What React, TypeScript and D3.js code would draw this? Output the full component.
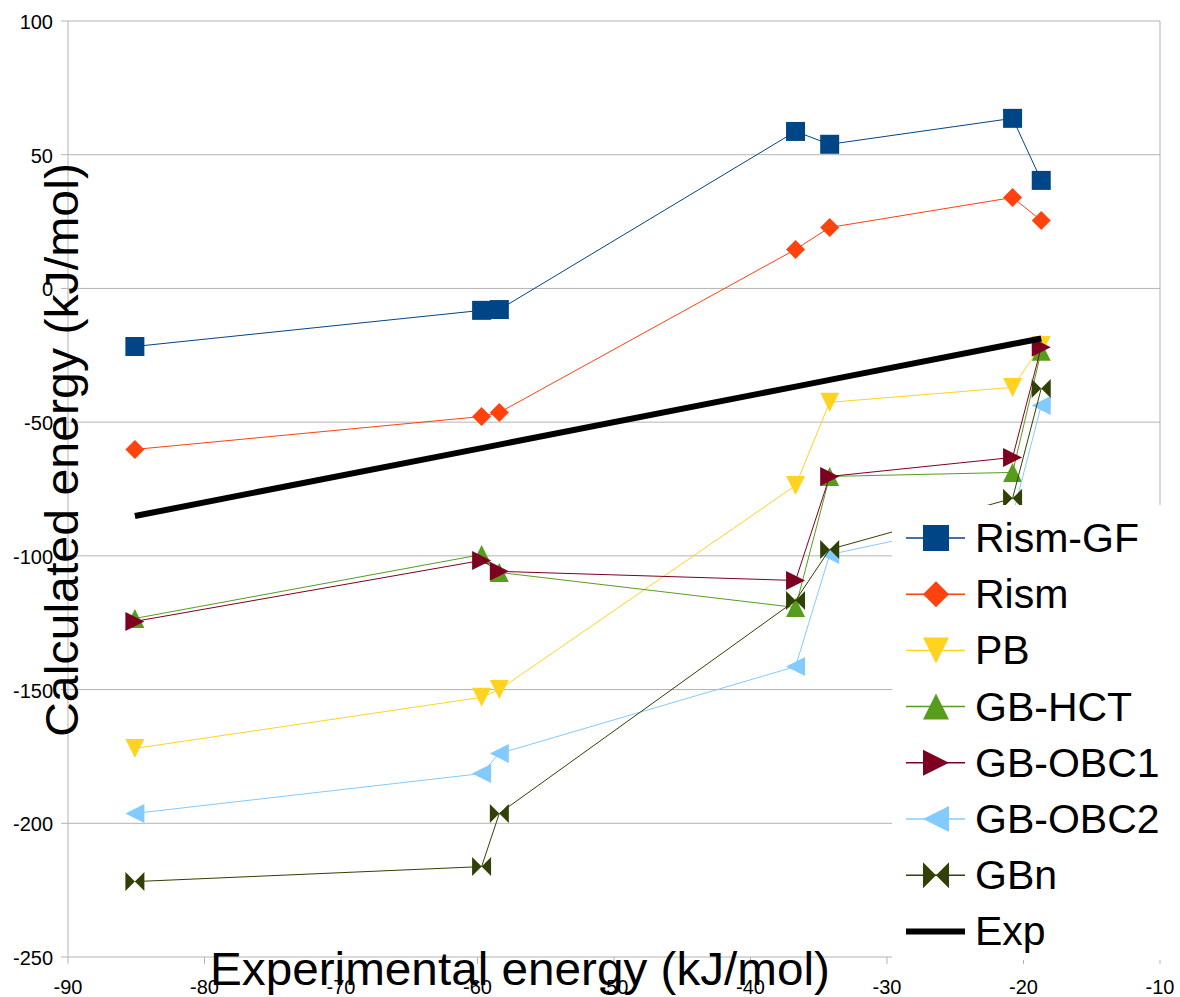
import React from "react";
import * as d3 from "d3";

const W = 1180;
const H = 997;

const expX = [-85.1, -59.7, -58.4, -36.7, -34.2, -20.8, -18.7];
const rismGF = [-21.7, -8.2, -7.9, 58.7, 53.9, 63.6, 40.4];
const rism = [-60.2, -47.9, -46.4, 14.6, 22.8, 34.0, 25.4];
const pb = [-172, -152.9, -150, -73.7, -42.6, -37, -21.3];
const gbHCT = [-123.4, -99.5, -106.2, -119.3, -70.3, -68.8, -23.5];
const gbOBC1 = [-124.5, -101.7, -105.8, -109.2, -70.3, -63.2, -22.0];
const gbOBC2 = [-196.3, -181.4, -173.9, -141.4, -99.5, -85, -43.8];
const gbn = [-221.8, -216.2, -196.3, -116.7, -97.6, -78.5, -37.4];
const expY = [-85.1, -59.7, -58.4, -36.7, -34.2, -20.8, -18.7];

const xTicks = [-90, -80, -70, -60, -50, -40, -30, -20, -10];
const yTicks = [100, 50, 0, -50, -100, -150, -200, -250];

type Shape = "square" | "diamond" | "down" | "up" | "right" | "left" | "bowtie" | "none";
const seriesNames = ["Rism-GF", "Rism", "PB", "GB-HCT", "GB-OBC1", "GB-OBC2", "GBn", "Exp"];
const seriesValues = [rismGF, rism, pb, gbHCT, gbOBC1, gbOBC2, gbn, expY];
const seriesColors = ["#004586", "#ff420e", "#ffd320", "#579d1c", "#7e0021", "#83caff", "#314004", "#000000"];
const seriesShapes: Shape[] = ["square", "diamond", "down", "up", "right", "left", "bowtie", "none"];

function markerPath(shape: Shape, cx: number, cy: number, s: number): string {
  const h = s / 2;
  switch (shape) {
    case "square":
      return `M${cx - h},${cy - h}h${s}v${s}h${-s}Z`;
    case "diamond":
      return `M${cx},${cy - h}L${cx + h},${cy}L${cx},${cy + h}L${cx - h},${cy}Z`;
    case "down":
      return `M${cx - h},${cy - h}L${cx + h},${cy - h}L${cx},${cy + h}Z`;
    case "up":
      return `M${cx - h},${cy + h}L${cx + h},${cy + h}L${cx},${cy - h}Z`;
    case "right":
      return `M${cx - h},${cy - h}L${cx + h},${cy}L${cx - h},${cy + h}Z`;
    case "left":
      return `M${cx + h},${cy - h}L${cx - h},${cy}L${cx + h},${cy + h}Z`;
    case "bowtie":
      return `M${cx - h},${cy - h}L${cx},${cy}L${cx - h},${cy + h}Z M${cx + h},${cy - h}L${cx},${cy}L${cx + h},${cy + h}Z`;
    default:
      return "";
  }
}

export default function App() {
  const x = d3.scaleLinear().domain([-90, -10]).range([68, 1160]);
  const y = d3.scaleLinear().domain([-250, 100]).range([957, 21]);
  const line = d3
    .line<number>()
    .x((_, i) => x(expX[i]))
    .y((d) => y(d));

  const font = "'Liberation Sans', Arial, sans-serif";
  const grid = "#b3b3b3";
  const mSize = 19;
  const lSize = 26;

  return (
    <svg width={W} height={H} style={{ position: "absolute", left: 0, top: 0, background: "#fff" }} fontFamily={font}>
      <rect x={0} y={0} width={W} height={H} fill="#fff" />
      {yTicks.map((t) => (
        <g key={"gy" + t}>
          <line x1={x(-90)} x2={x(-10)} y1={y(t)} y2={y(t)} stroke={grid} strokeWidth={1} />
          <line x1={x(-90) - 7} x2={x(-90)} y1={y(t)} y2={y(t)} stroke={grid} strokeWidth={1} />
          <text x={53} y={y(t) + 1} textAnchor="end" dominantBaseline="central" fontSize={20} fill="#000">
            {t}
          </text>
        </g>
      ))}
      <line x1={x(-90)} x2={x(-90)} y1={y(100)} y2={y(-250)} stroke={grid} strokeWidth={1} />
      <line x1={x(-10)} x2={x(-10)} y1={y(100)} y2={y(-250)} stroke={grid} strokeWidth={1} />
      {xTicks.map((t) => (
        <g key={"gx" + t}>
          <line x1={x(t)} x2={x(t)} y1={y(-250)} y2={y(-250) + 7} stroke={grid} strokeWidth={1} />
          <text x={x(t)} y={994} textAnchor="middle" fontSize={20} fill="#000">
            {t}
          </text>
        </g>
      ))}
      {seriesValues.map((vals, si) => (
        <g key={"s" + si}>
          <path
            d={line(vals) || ""}
            fill="none"
            stroke={seriesColors[si]}
            strokeWidth={seriesShapes[si] === "none" ? 6 : 1}
          />
          {seriesShapes[si] !== "none" &&
            vals.map((v, i) => (
              <path key={i} d={markerPath(seriesShapes[si], x(expX[i]), y(v), mSize)} fill={seriesColors[si]} />
            ))}
        </g>
      ))}
      <rect x={892} y={505} width={272} height={455} fill="#fff" />
      {seriesNames.map((name, i) => {
        const cy = 538 + i * 56.2;
        return (
          <g key={"l" + i}>
            <line
              x1={906}
              x2={965}
              y1={cy}
              y2={cy}
              stroke={seriesColors[i]}
              strokeWidth={seriesShapes[i] === "none" ? 6 : 1.5}
            />
            {seriesShapes[i] !== "none" && (
              <path d={markerPath(seriesShapes[i], 936, cy, lSize)} fill={seriesColors[i]} />
            )}
            <text x={975} y={cy} dominantBaseline="central" fontSize={41} fill="#000">
              {name}
            </text>
          </g>
        );
      })}
      <text
        x={520}
        y={985}
        textAnchor="middle"
        fontSize={46}
        fill="#000"
        textLength={620}
        lengthAdjust="spacingAndGlyphs"
      >
        Experimental energy (kJ/mol)
      </text>
      <text
        transform={`translate(78,450) rotate(-90)`}
        textAnchor="middle"
        fontSize={46}
        fill="#000"
        textLength={574}
        lengthAdjust="spacingAndGlyphs"
      >
        Calculated energy (kJ/mol)
      </text>
    </svg>
  );
}
